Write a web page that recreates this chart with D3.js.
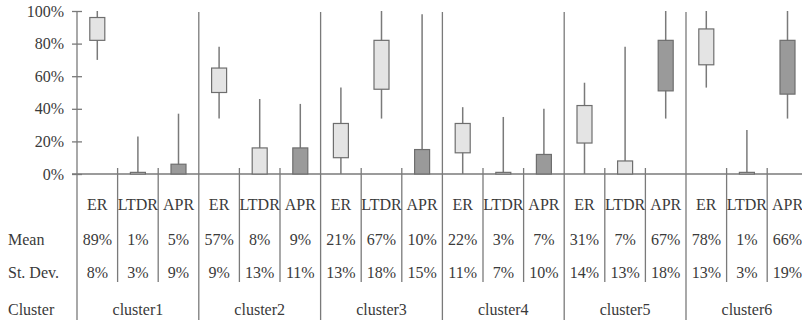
<!DOCTYPE html>
<html>
<head>
<meta charset="utf-8">
<script src="https://cdn.jsdelivr.net/npm/d3@7"></script>
<style>
  html, body { margin: 0; padding: 0; background: #fff; }
  svg { display: block; }
  svg text { font-family: "Liberation Serif", "Tinos", "Times New Roman", "DejaVu Serif", serif; fill: #3a3a3a; }
</style>
</head>
<body>
<svg id="chart" width="802" height="320"></svg>
<script>
// Cluster profiles: three indicators per cluster
const clusters = ["cluster1", "cluster2", "cluster3", "cluster4", "cluster5", "cluster6"];
const metrics = ["ER", "LTDR", "APR"];

// Table rows (percent)
const means  = [[89, 1, 5], [57, 8, 9], [21, 67, 10], [22, 3, 7], [31, 7, 67], [78, 1, 66]];
const stdevs = [[8, 3, 9], [9, 13, 11], [13, 18, 15], [11, 7, 10], [14, 13, 18], [13, 3, 19]];

// Box-and-whisker extents (percent)
const whiskerLow  = [[70, 0, 0], [34, 0, 0], [0, 34, 0], [0, 0, 0], [0, 0, 34], [53, 0, 34]];
const boxLow      = [[82, 0, 0], [50, 0, 0], [10, 52, 0], [13, 0, 0], [19, 0, 51], [67, 0, 49]];
const boxHigh     = [[96, 1, 6], [65, 16, 16], [31, 82, 15], [31, 1, 12], [42, 8, 82], [89, 1, 82]];
const whiskerHigh = [[100, 23, 37], [78, 46, 43], [53, 100, 98], [41, 35, 40], [56, 78, 100], [100, 27, 100]];

const yTicks = [0, 20, 40, 60, 80, 100];
const rowLabels = ["Mean", "St. Dev.", "Cluster"];

const FONT = '"Liberation Serif", "Tinos", "Times New Roman", "DejaVu Serif", serif';
const FS = 16;
const svg = d3.select("#chart");

// One band per cluster/indicator column
const columns = [];
clusters.forEach((c, ci) => metrics.forEach((m, mi) => columns.push({
  key: c + "-" + m, ci, mi, metric: m,
  wl: whiskerLow[ci][mi], bl: boxLow[ci][mi], bh: boxHigh[ci][mi], wh: whiskerHigh[ci][mi],
  mean: means[ci][mi], sd: stdevs[ci][mi]
})));

const x = d3.scaleBand().domain(columns.map(d => d.key)).range([77, 77 + 18 * 40.6]).padding(0);
const y = d3.scaleLinear().domain([0, 100]).range([174, 11]);
const bw = x.bandwidth();
const boxW = 15;
const lineColor = "#7a7a7a";
const fills = { ER: "#e4e4e4", LTDR: "#e4e4e4", APR: "#9a9a9a" };

// Y axis with ticks crossing the axis line
const yAxis = svg.append("g")
  .attr("transform", "translate(77,0)")
  .call(d3.axisLeft(y).tickValues(yTicks).tickFormat(d => d + "%").tickSize(5).tickPadding(8));
yAxis.attr("font-family", FONT).attr("font-size", FS);
yAxis.select(".domain").remove();
yAxis.selectAll(".tick line").attr("x1", 5).attr("stroke", lineColor).attr("stroke-width", 1.3);
yAxis.selectAll(".tick text").attr("font-family", FONT).attr("font-size", FS).attr("fill", "#3a3a3a");

// Vertical axis line continuing through the table
svg.append("line")
  .attr("x1", 77).attr("x2", 77).attr("y1", y(100)).attr("y2", 320)
  .attr("stroke", lineColor).attr("stroke-width", 1.3);

// Baseline at 0%
svg.append("line")
  .attr("x1", 72).attr("x2", 802).attr("y1", y(0)).attr("y2", y(0))
  .attr("stroke", lineColor).attr("stroke-width", 1.3);

// Separators between indicator columns (short) and between clusters (full height)
const seps = columns.slice(1).map(d => ({ x: x(d.key), clusterEdge: d.mi === 0 }));
svg.append("g").selectAll("line").data(seps).join("line")
  .attr("x1", d => d.x).attr("x2", d => d.x)
  .attr("y1", d => d.clusterEdge ? 12 : 168)
  .attr("y2", d => d.clusterEdge ? 320 : 282)
  .attr("stroke", lineColor).attr("stroke-width", 1.3);

// Whiskers and boxes
const marks = svg.append("g").selectAll("g").data(columns).join("g")
  .attr("transform", d => `translate(${x(d.key) + bw / 2},0)`);
marks.append("line")
  .attr("x1", 0).attr("x2", 0)
  .attr("y1", d => y(d.wh)).attr("y2", d => y(d.wl))
  .attr("stroke", lineColor).attr("stroke-width", 1.5);
marks.append("rect")
  .attr("x", -boxW / 2).attr("width", boxW)
  .attr("y", d => y(d.bh)).attr("height", d => y(d.bl) - y(d.bh))
  .attr("fill", d => fills[d.metric])
  .attr("stroke", "#6e6e6e").attr("stroke-width", 1.2);

// Table: indicator headers, means, standard deviations
const table = svg.append("g").attr("font-family", FONT).attr("font-size", FS);
const rowsY = { head: 210, mean: 245, sd: 278, cluster: 315 };
table.selectAll(".head").data(columns).join("text").attr("class", "head")
  .attr("x", d => x(d.key) + bw / 2).attr("y", rowsY.head)
  .attr("text-anchor", "middle")
  .text(d => d.metric);
table.selectAll(".mean").data(columns).join("text").attr("class", "mean")
  .attr("x", d => x(d.key) + bw / 2).attr("y", rowsY.mean)
  .attr("text-anchor", "middle")
  .text(d => d.mean + "%");
table.selectAll(".sd").data(columns).join("text").attr("class", "sd")
  .attr("x", d => x(d.key) + bw / 2).attr("y", rowsY.sd)
  .attr("text-anchor", "middle")
  .text(d => d.sd + "%");

// Cluster names centred under their three columns
table.selectAll(".cl").data(clusters).join("text").attr("class", "cl")
  .attr("x", c => x(c + "-ER") + bw * 1.5).attr("y", rowsY.cluster)
  .attr("text-anchor", "middle")
  .text(c => c);

// Row labels
table.selectAll(".rowlab").data(rowLabels).join("text").attr("class", "rowlab")
  .attr("x", 8).attr("y", (d, i) => [rowsY.mean, rowsY.sd, rowsY.cluster][i])
  .text(d => d);
</script>
</body>
</html>
